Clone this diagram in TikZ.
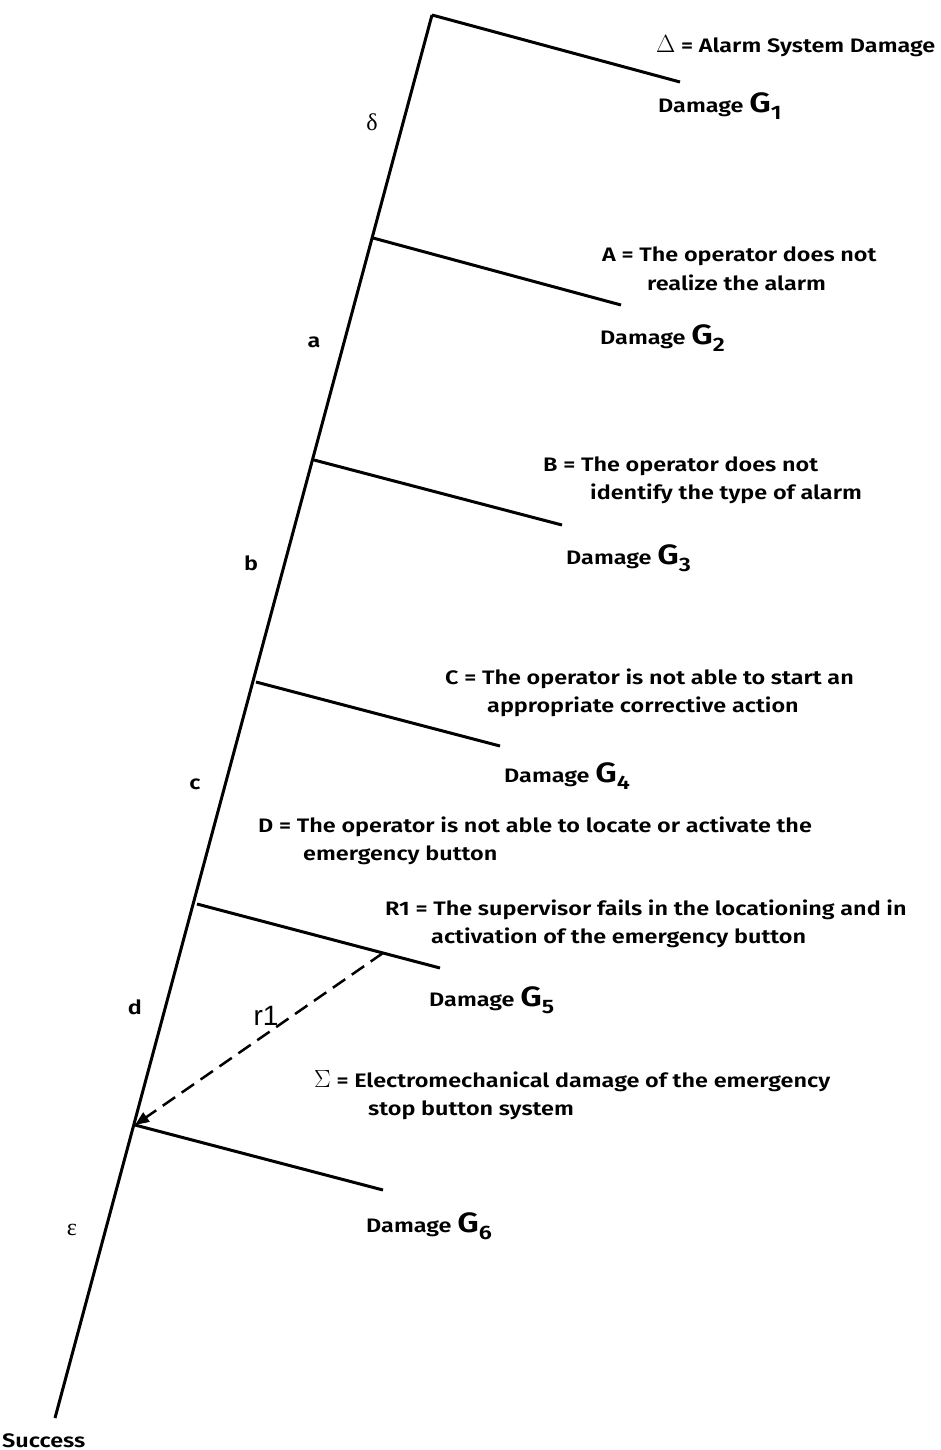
\documentclass[tikz,border=0pt]{standalone}
\usepackage{fontspec}
\setmainfont{Fira Sans SemiBold}[FakeStretch=1.2]
\newfontfamily\rfont{Liberation Sans}
\newfontfamily\serfont{Liberation Serif}
\usetikzlibrary{arrows.meta}
\begin{document}
\begin{tikzpicture}[x=1pt,y=-1pt,
  stem/.style={line width=3pt},
  branch/.style={line width=3pt},
  txt/.style={anchor=base west,inner sep=0pt,font=\fontsize{19.5}{22}\selectfont},
  seg/.style={anchor=center,inner sep=0pt,font=\fontsize{19.5}{22}\selectfont},
  greek/.style={anchor=center,inner sep=0pt,font=\serfont\fontsize{24}{24}\selectfont}]
\newcommand{\dmg}[1]{Damage {\fontsize{28}{28}\selectfont G}\raisebox{-7pt}{#1}}
\newcommand{\bigsym}[1]{{\fontsize{23}{23}\selectfont$#1$}}
\fill[white] (0,0) rectangle (940,1450);
\useasboundingbox (0,0) rectangle (940,1450);
% stem
\coordinate (top) at (432,15);
\coordinate (bot) at (55,1418);
\coordinate (p2) at (373,238);
\coordinate (p3) at (314,460);
\coordinate (p4) at (256,682);
\coordinate (p5) at (197,904);
\coordinate (p6) at (135,1125);
\coordinate (e1) at (680,82);
\coordinate (e2) at (621,305);
\coordinate (e3) at (562,525);
\coordinate (e4) at (500,746);
\coordinate (e5) at (440,968);
\coordinate (e6) at (383,1190);
\coordinate (r1s) at (383,953);
\draw[stem] (top) -- (bot);
\draw[branch] (top) -- (e1);
\draw[branch] (p2) -- (e2);
\draw[branch] (p3) -- (e3);
\draw[branch] (p4) -- (e4);
\draw[branch] (p5) -- (e5);
\draw[branch] (p6) -- (e6);
\draw[line width=2.5pt,dash pattern=on 15pt off 8pt,-{Triangle[length=14pt,width=11pt]}] (r1s) -- (p6);
\node[anchor=center,inner sep=0pt,font=\rfont\fontsize{28}{28}\selectfont] (r1) at (266,1016) {r1};
% segment labels
\node[greek] (ld) at (372,122) {δ};
\node[seg] (la) at (314,342) {a};
\node[seg] (lb) at (251,563) {b};
\node[seg] (lc) at (195,784) {c};
\node[seg] (lD) at (135,1007) {d};
\node[greek] (le) at (72,1230) {ε};
% event texts
\node[txt] (t1) at (656,53) {\bigsym{\Delta} = Alarm System Damage};
\node[txt] (g1) at (658,113) {\dmg{1}};
\node[txt] (t2a) at (602,261) {A = The operator does not};
\node[txt] (t2b) at (647,290) {realize the alarm};
\node[txt] (g2) at (600,344) {\dmg{2}};
\node[txt] (t3a) at (543,471) {B = The operator does not};
\node[txt] (t3b) at (590,499) {identify the type of alarm};
\node[txt] (g3) at (566,564) {\dmg{3}};
\node[txt] (t4a) at (445,684) {C = The operator is not able to start an};
\node[txt] (t4b) at (487,712) {appropriate corrective action};
\node[txt] (g4) at (504,782) {\dmg{4}};
\node[txt] (t5a) at (258,832) {D = The operator is not able to locate or activate the};
\node[txt] (t5b) at (303,860) {emergency button};
\node[txt] (t6a) at (385,915) {R1 = The supervisor fails in the locationing and in};
\node[txt] (t6b) at (431,943) {activation of the emergency button};
\node[txt] (g5) at (429,1006) {\dmg{5}};
\node[txt] (t7a) at (314,1087) {\bigsym{\Sigma} = Electromechanical damage of the emergency};
\node[txt] (t7b) at (368,1115) {stop button system};
\node[txt] (g6) at (366,1232) {\dmg{6}};
\node[txt] (succ) at (2,1447) {Success};
\end{tikzpicture}
\end{document}
